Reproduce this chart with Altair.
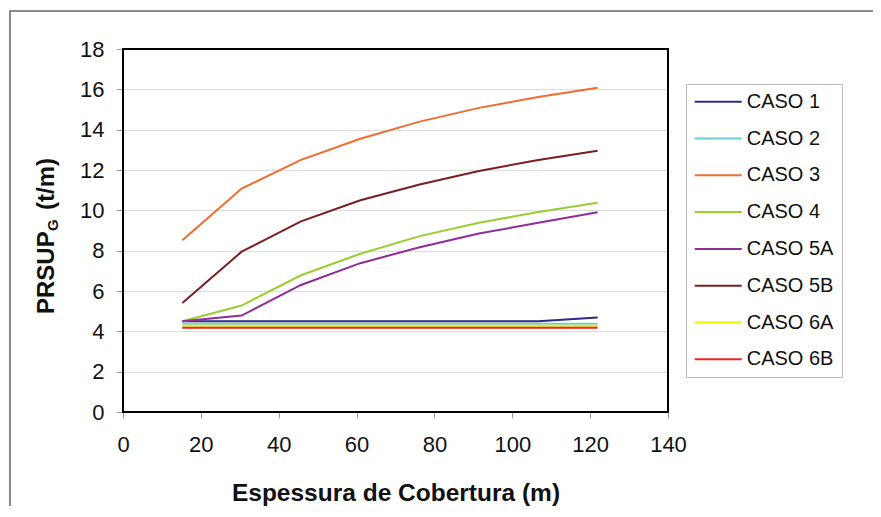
import altair as alt
import pandas as pd

# ---- data ----
espessura = [15.24, 30.48, 45.72, 60.96, 76.2, 91.44, 106.68, 121.92]
casos = ["CASO 1", "CASO 2", "CASO 3", "CASO 4", "CASO 5A", "CASO 5B", "CASO 6A", "CASO 6B"]
caso_1 = [4.50, 4.50, 4.50, 4.50, 4.50, 4.50, 4.50, 4.68]
caso_2 = [4.38, 4.38, 4.38, 4.38, 4.38, 4.38, 4.38, 4.38]
caso_3 = [8.52, 11.08, 12.50, 13.55, 14.40, 15.08, 15.62, 16.08]
caso_4 = [4.50, 5.28, 6.78, 7.85, 8.72, 9.38, 9.92, 10.38]
caso_5a = [4.50, 4.78, 6.30, 7.38, 8.17, 8.85, 9.38, 9.90]
caso_5b = [5.40, 7.95, 9.45, 10.50, 11.28, 11.95, 12.50, 12.95]
caso_6a = [4.28, 4.28, 4.28, 4.28, 4.28, 4.28, 4.28, 4.28]
caso_6b = [4.18, 4.18, 4.18, 4.18, 4.18, 4.18, 4.18, 4.18]
cores = ["#2E2A86", "#6CCFCF", "#F26B30", "#9ACD32", "#8E2D9A", "#7A1F1F", "#F2F200", "#EE2222"]
x_ticks = [0, 20, 40, 60, 80, 100, 120, 140]
y_ticks = [0, 2, 4, 6, 8, 10, 12, 14, 16, 18]

series = [caso_1, caso_2, caso_3, caso_4, caso_5a, caso_5b, caso_6a, caso_6b]
rows = []
for nome, vals in zip(casos, series):
    for xv, yv in zip(espessura, vals):
        rows.append({"caso": nome, "x": xv, "y": yv})
df = pd.DataFrame(rows)

FONT = "Liberation Sans"
W, H = 545, 363

lines = alt.Chart(df).mark_line(strokeWidth=2).encode(
    x=alt.X("x:Q",
            scale=alt.Scale(domain=[0, 140], nice=False),
            axis=alt.Axis(values=x_ticks, title="Espessura de Cobertura (m)", grid=False,
                          domain=False, tickColor="#999", tickSize=6, labelPadding=16,
                          labelFlush=False,
                          labelFontSize=22, labelFont=FONT, labelColor="#111",
                          titleFontSize=24.5, titleFont=FONT, titleFontWeight="bold",
                          titleColor="#111", titlePadding=26)),
    y=alt.Y("y:Q",
            scale=alt.Scale(domain=[0, 18], nice=False),
            axis=alt.Axis(values=y_ticks, title=None, grid=True, gridColor="#dcdcdc",
                          gridWidth=1.2, domain=False, tickColor="#999", tickSize=7,
                          labelPadding=12, labelFontSize=22, labelFont=FONT,
                          labelColor="#111", labelFlush=False)),
    color=alt.Color("caso:N",
                    scale=alt.Scale(domain=casos, range=cores),
                    legend=alt.Legend(title=None, orient="none", legendX=563, legendY=35,
                                      symbolType="stroke", symbolSize=2209,
                                      symbolStrokeWidth=2, clipHeight=20, rowPadding=16.8,
                                      labelFontSize=20, labelFont=FONT, labelColor="#111",
                                      labelOffset=4, labelLimit=300,
                                      strokeColor="#bbbbbb", fillColor="white",
                                      padding=7.7)),
)

# outer frame of the figure
frame = alt.Chart(pd.DataFrame({"k": [0]})).mark_rect(
    filled=False, stroke="#666666", strokeWidth=1.5
).encode(x=alt.value(-113), x2=alt.value(900), y=alt.value(-38), y2=alt.value(700))

# black border of the plot area (drawn above the grid)
plot_border = alt.Chart(pd.DataFrame({"k": [0]})).mark_rect(
    filled=False, stroke="black", strokeWidth=2
).encode(x=alt.value(0), x2=alt.value(W), y=alt.value(0), y2=alt.value(H))

# y-axis title with subscript G
ttl_main = alt.Chart(pd.DataFrame({"t": ["PRSUP"]})).mark_text(
    angle=270, align="left", baseline="alphabetic", font=FONT, fontSize=24,
    fontWeight="bold", color="#111"
).encode(text="t:N", x=alt.value(-69), y=alt.value(265))
ttl_sub = alt.Chart(pd.DataFrame({"t": ["G"]})).mark_text(
    angle=270, align="left", baseline="alphabetic", font=FONT, fontSize=15,
    fontWeight="bold", color="#111"
).encode(text="t:N", x=alt.value(-65), y=alt.value(182))
ttl_unit = alt.Chart(pd.DataFrame({"t": ["(t/m)"]})).mark_text(
    angle=270, align="left", baseline="alphabetic", font=FONT, fontSize=24,
    fontWeight="bold", color="#111"
).encode(text="t:N", x=alt.value(-69), y=alt.value(161))

chart = alt.layer(frame, lines, plot_border, ttl_main, ttl_sub, ttl_unit).properties(
    width=W, height=H,
    padding={"left": 115, "top": 41, "right": 205, "bottom": 94},
    autosize=alt.AutoSizeParams(type="none"),
).configure_view(stroke=None).configure(font=FONT, background="white")

chart.save("out.html", embed_options={"renderer": "svg", "actions": False})
